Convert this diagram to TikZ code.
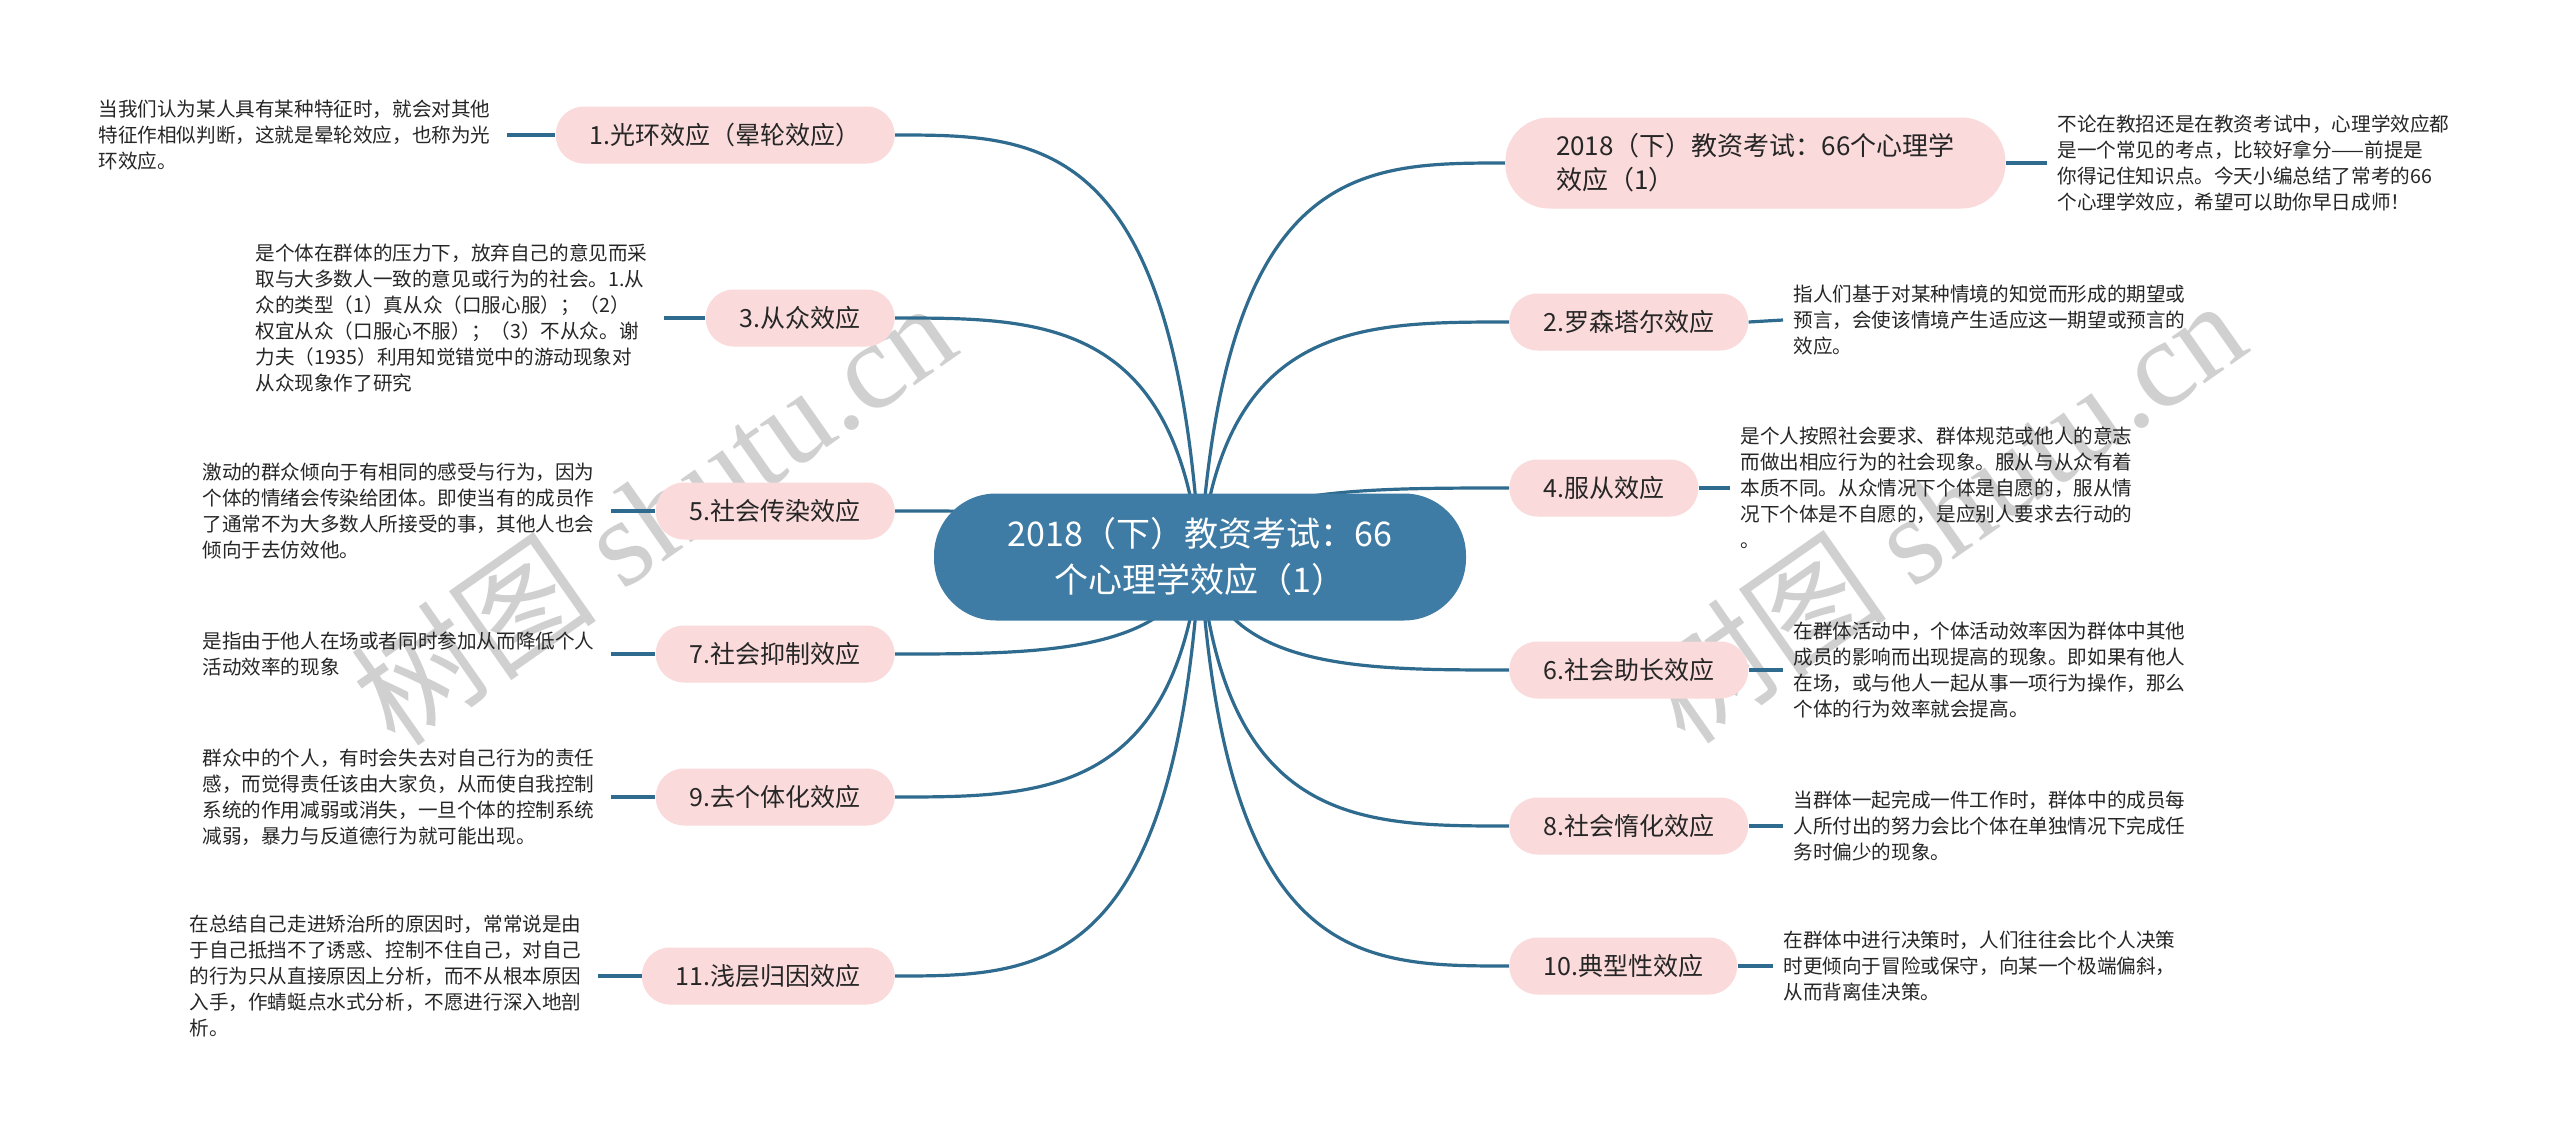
\documentclass[tikz,border=0pt]{standalone}
\usepackage{fontspec}
\setmainfont{Noto Sans CJK SC}
\newfontfamily\wmserif{Liberation Serif}
\pgfdeclarelayer{bg}
\pgfsetlayers{bg,main}
\definecolor{linkc}{HTML}{2F6B8E}
\definecolor{pinkc}{HTML}{FADADA}
\definecolor{centc}{HTML}{3F7CA5}
\definecolor{txtc}{HTML}{262626}
\definecolor{wmc}{HTML}{D0D0D0}
\tikzset{
  branch/.style={fill=pinkc, rounded corners=14pt, minimum height=28.5pt, inner xsep=17pt, inner ysep=0pt, font=\fontsize{12.5}{15}\selectfont, text=txtc},
  desc/.style={align=left, font=\fontsize{9.8}{13}\selectfont, inner xsep=8pt, inner ysep=0pt, text=txtc},
  rdesc/.style={desc, inner xsep=5pt},
  link/.style={draw=linkc, line width=1.6pt},
  wmark/.style={text=wmc, rotate=35, font=\fontsize{62}{68}\selectfont}
}
\begin{document}
\begin{tikzpicture}[x=0.5pt,y=-0.5pt]
\useasboundingbox (0,0) rectangle (2560,1141);
\coordinate (c) at (1200,557);
% central
\node[fill=centc, rounded corners=31pt, minimum width=266pt, minimum height=63.5pt, align=center, text=white, font=\fontsize{17}{23}\selectfont] (root) at (1200,557) {2018（下）教资考试：66\\个心理学效应（1）};
% left branches
\node[branch, anchor=east] (n1) at (895,135) {1.光环效应（晕轮效应）};
\node[branch, anchor=east] (n3) at (895,318) {3.从众效应};
\node[branch, anchor=east] (n5) at (895,511) {5.社会传染效应};
\node[branch, anchor=east] (n7) at (895,654) {7.社会抑制效应};
\node[branch, anchor=east] (n9) at (895,797) {9.去个体化效应};
\node[branch, anchor=east] (n11) at (895,976) {11.浅层归因效应};
% right branches
\node[branch, anchor=west, rounded corners=22pt, minimum height=45.5pt, minimum width=250pt, inner xsep=24pt, align=left, font=\fontsize{13}{17}\selectfont] (t0) at (1505,163) {2018（下）教资考试：66个心理学\\效应（1）};
\node[branch, anchor=west] (n2) at (1509,322) {2.罗森塔尔效应};
\node[branch, anchor=west] (n4) at (1509,488) {4.服从效应};
\node[branch, anchor=west] (n6) at (1509,670) {6.社会助长效应};
\node[branch, anchor=west] (n8) at (1509,826) {8.社会惰化效应};
\node[branch, anchor=west] (n10) at (1509,966) {10.典型性效应};
% left descriptions
\node[desc, anchor=west] (d1) at (82,135) {当我们认为某人具有某种特征时，就会对其他\\特征作相似判断，这就是晕轮效应，也称为光\\环效应。};
\node[desc, anchor=west] (d3) at (239,318) {是个体在群体的压力下，放弃自己的意见而采\\取与大多数人一致的意见或行为的社会。1.从\\众的类型（1）真从众（口服心服）；（2）\\权宜从众（口服心不服）；（3）不从众。谢\\力夫（1935）利用知觉错觉中的游动现象对\\从众现象作了研究};
\node[desc, anchor=west] (d5) at (186,511) {激动的群众倾向于有相同的感受与行为，因为\\个体的情绪会传染给团体。即使当有的成员作\\了通常不为大多数人所接受的事，其他人也会\\倾向于去仿效他。};
\node[desc, anchor=west] (d7) at (186,654) {是指由于他人在场或者同时参加从而降低个人\\活动效率的现象};
\node[desc, anchor=west] (d9) at (186,797) {群众中的个人，有时会失去对自己行为的责任\\感，而觉得责任该由大家负，从而使自我控制\\系统的作用减弱或消失，一旦个体的控制系统\\减弱，暴力与反道德行为就可能出现。};
\node[desc, anchor=west] (d11) at (173,976) {在总结自己走进矫治所的原因时，常常说是由\\于自己抵挡不了诱惑、控制不住自己，对自己\\的行为只从直接原因上分析，而不从根本原因\\入手，作蜻蜓点水式分析，不愿进行深入地剖\\析。};
% right descriptions
\node[rdesc, anchor=west] (dt) at (2047,163) {不论在教招还是在教资考试中，心理学效应都\\是一个常见的考点，比较好拿分——前提是\\你得记住知识点。今天小编总结了常考的66\\个心理学效应，希望可以助你早日成师！};
\node[rdesc, anchor=west] (d2) at (1783,320) {指人们基于对某种情境的知觉而形成的期望或\\预言，会使该情境产生适应这一期望或预言的\\效应。};
\node[rdesc, anchor=west] (d4) at (1730,488) {是个人按照社会要求、群体规范或他人的意志\\而做出相应行为的社会现象。服从与从众有着\\本质不同。从众情况下个体是自愿的，服从情\\况下个体是不自愿的，是应别人要求去行动的\\。};
\node[rdesc, anchor=west] (d6) at (1783,670) {在群体活动中，个体活动效率因为群体中其他\\成员的影响而出现提高的现象。即如果有他人\\在场，或与他人一起从事一项行为操作，那么\\个体的行为效率就会提高。};
\node[rdesc, anchor=west] (d8) at (1783,826) {当群体一起完成一件工作时，群体中的成员每\\人所付出的努力会比个体在单独情况下完成任\\务时偏少的现象。};
\node[rdesc, anchor=west] (d10) at (1773,966) {在群体中进行决策时，人们往往会比个人决策\\时更倾向于冒险或保守，向某一个极端偏斜，\\从而背离佳决策。};
\begin{pgfonlayer}{bg}
\fill[white] (0,0) rectangle (2560,1141);
% watermarks
\node[wmark] (wm1) at (653,512) {树图 {\wmserif shutu.cn}};
\node[wmark] (wm2) at (1943,510) {树图 {\wmserif shutu.cn}};
% main links
\draw[link] (c) .. controls (1175,135) and (1040,135) .. (n1.east);
\draw[link] (c) .. controls (1175,318) and (1040,318) .. (n3.east);
\draw[link] (c) .. controls (1175,511) and (1040,511) .. (n5.east);
\draw[link] (c) .. controls (1175,654) and (1040,654) .. (n7.east);
\draw[link] (c) .. controls (1175,797) and (1040,797) .. (n9.east);
\draw[link] (c) .. controls (1175,976) and (1040,976) .. (n11.east);
\draw[link] (c) .. controls (1225,163) and (1360,163) .. (t0.west);
\draw[link] (c) .. controls (1225,322) and (1360,322) .. (n2.west);
\draw[link] (c) .. controls (1225,488) and (1360,488) .. (n4.west);
\draw[link] (c) .. controls (1225,670) and (1360,670) .. (n6.west);
\draw[link] (c) .. controls (1225,826) and (1360,826) .. (n8.west);
\draw[link] (c) .. controls (1225,966) and (1360,966) .. (n10.west);
\end{pgfonlayer}
% description links
\draw[link] (d1.east) -- (n1.west);
\draw[link] (d3.east) -- (n3.west);
\draw[link] (d5.east) -- (n5.west);
\draw[link] (d7.east) -- (n7.west);
\draw[link] (d9.east) -- (n9.west);
\draw[link] (d11.east) -- (n11.west);
\draw[link] (t0.east) -- (dt.west);
\draw[link] (n2.east) -- (d2.west);
\draw[link] (n4.east) -- (d4.west);
\draw[link] (n6.east) -- (d6.west);
\draw[link] (n8.east) -- (d8.west);
\draw[link] (n10.east) -- (d10.west);
\end{tikzpicture}
\end{document}
